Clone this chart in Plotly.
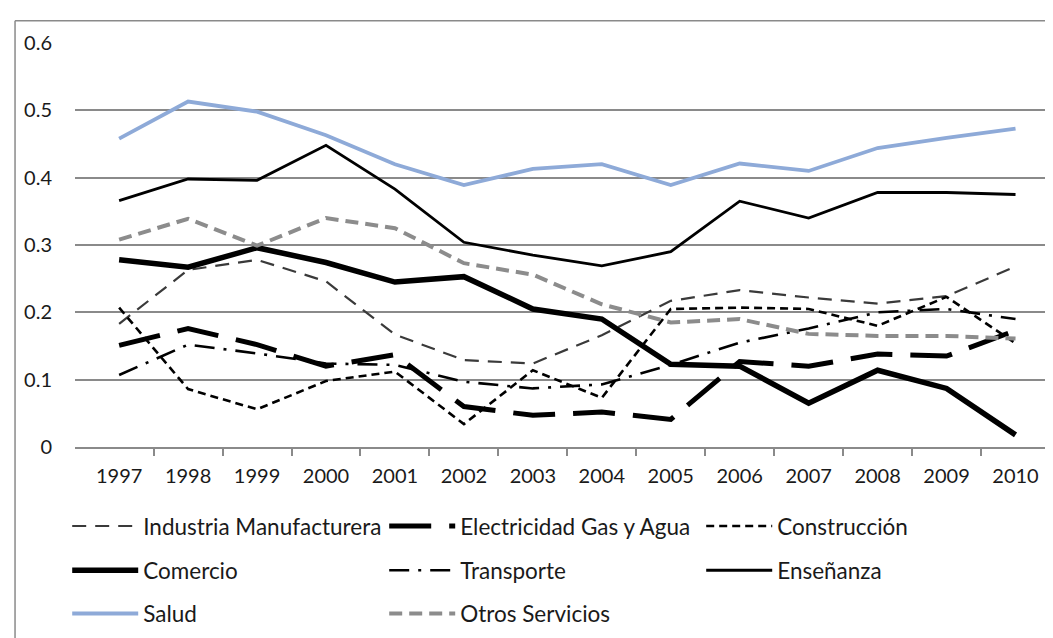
import plotly.graph_objects as go

years = [1997, 1998, 1999, 2000, 2001, 2002, 2003, 2004, 2005, 2006, 2007, 2008, 2009, 2010]

industria = [0.183, 0.263, 0.278, 0.246, 0.167, 0.129, 0.124, 0.166, 0.217, 0.233, 0.222, 0.213, 0.224, 0.268]
electricidad = [0.151, 0.176, 0.152, 0.120, 0.137, 0.060, 0.047, 0.052, 0.041, 0.127, 0.120, 0.138, 0.135, 0.173]
construccion = [0.207, 0.086, 0.056, 0.098, 0.112, 0.034, 0.114, 0.073, 0.205, 0.207, 0.205, 0.180, 0.223, 0.154]
comercio = [0.278, 0.267, 0.296, 0.274, 0.245, 0.253, 0.205, 0.190, 0.123, 0.120, 0.065, 0.114, 0.087, 0.018]
transporte = [0.107, 0.152, 0.139, 0.124, 0.122, 0.097, 0.087, 0.093, 0.122, 0.155, 0.176, 0.200, 0.205, 0.190]
ensenanza = [0.366, 0.398, 0.396, 0.448, 0.383, 0.304, 0.285, 0.269, 0.290, 0.365, 0.340, 0.378, 0.378, 0.375]
salud = [0.458, 0.513, 0.498, 0.463, 0.420, 0.389, 0.413, 0.420, 0.389, 0.421, 0.410, 0.444, 0.459, 0.473]
otros = [0.308, 0.339, 0.299, 0.340, 0.325, 0.273, 0.256, 0.212, 0.185, 0.190, 0.168, 0.165, 0.165, 0.161]

y_ticks = [0, 0.1, 0.2, 0.3, 0.4, 0.5, 0.6]
y_labels = ["0", "0.1", "0.2", "0.3", "0.4", "0.5", "0.6"]

boundaries = [1997.5, 1998.5, 1999.5, 2000.5, 2001.5, 2002.5, 2003.5, 2004.5,
              2005.5, 2006.5, 2007.5, 2008.5, 2009.5, 2010.5]

FONT = "Lato"
GRID = "#8a8a8a"
TXT = "#1a1a1a"

series = [
    ("Industria Manufacturera", industria, "#3a3a3a", 2.2, "14px,9px", "legend"),
    ("Electricidad Gas y Agua", electricidad, "#000000", 5, "42px,18px", "legend"),
    ("Construcción", construccion, "#000000", 2.6, "8px,5px", "legend"),
    ("Comercio", comercio, "#000000", 5.5, "solid", "legend2"),
    ("Transporte", transporte, "#000000", 2.6, "20px,9px,3px,9px", "legend2"),
    ("Enseñanza", ensenanza, "#000000", 2.8, "solid", "legend2"),
    ("Salud", salud, "#8eaad8", 3.8, "solid", "legend3"),
    ("Otros Servicios", otros, "#8c8c8c", 4, "13px,7px", "legend3"),
]

fig = go.Figure()
for name, vals, color, width, dash, leg in series:
    fig.add_trace(go.Scatter(
        x=years, y=vals, name=name, mode="lines",
        line=dict(color=color, width=width, dash=dash),
        legend=leg,
    ))

legend_common = dict(
    orientation="h", xanchor="left", yanchor="middle",
    x=-0.008, entrywidth=236, entrywidthmode="pixels", itemwidth=66,
    font=dict(family=FONT, size=22.5, color=TXT),
    bgcolor="rgba(0,0,0,0)", traceorder="normal",
)

fig.update_layout(
    width=1053, height=638,
    margin=dict(l=67, r=11, t=35, b=193),
    paper_bgcolor="white", plot_bgcolor="white",
    font=dict(family=FONT, size=20, color=TXT),
    showlegend=True,
    legend=dict(**legend_common, y=-0.1965),
    legend2=dict(**legend_common, y=-0.306),
    legend3=dict(**legend_common, y=-0.413),
    xaxis=dict(
        range=[1996.36, 2010.5], tickvals=years, ticktext=[str(y) for y in years],
        ticks="", showgrid=False, zeroline=False, automargin=False,
        showline=True, linecolor=GRID, linewidth=1.5,
        ticklabelstandoff=10,
        minor=dict(tickvals=boundaries, ticks="outside", ticklen=7,
                   tickwidth=1.5, tickcolor=GRID, showgrid=False),
        tickfont=dict(family=FONT, size=20, color=TXT),
    ),
    yaxis=dict(
        range=[0, 0.6], tickvals=y_ticks, ticktext=y_labels,
        showgrid=True, gridcolor=GRID, gridwidth=1.5,
        zeroline=False, showline=False, ticks="", automargin=False,
        ticklabelstandoff=22,
        tickfont=dict(family=FONT, size=20, color=TXT),
    ),
    shapes=[
        dict(type="line", xref="paper", yref="paper", x0=-0.0615, x1=1.05,
             y0=1.055, y1=1.055, line=dict(color=GRID, width=1.5)),
        dict(type="line", xref="paper", yref="paper", x0=-0.0615, x1=-0.0615,
             y0=1.055, y1=-0.5, line=dict(color=GRID, width=1.5)),
    ],
)

fig.write_html("out.html")
